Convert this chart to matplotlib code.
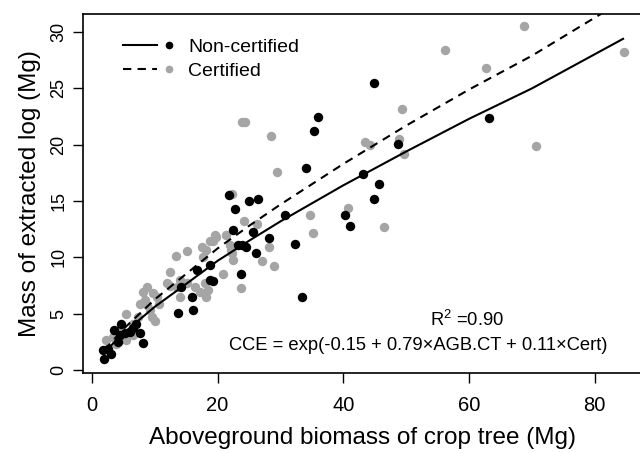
import matplotlib
matplotlib.use("Agg")
import matplotlib.pyplot as plt
from matplotlib.lines import Line2D
from matplotlib.legend_handler import HandlerTuple

plt.rcParams['font.family'] = ['Liberation Sans', 'DejaVu Sans']
plt.rcParams['mathtext.fontset'] = 'custom'
plt.rcParams['mathtext.rm'] = 'Liberation Sans'

# non-certified points (black)
noncert_x = [1.9, 1.8, 2.5, 3.0, 3.5, 4.2, 4.5, 4.6, 5.3, 6.0, 6.6, 7.1, 7.6, 8.1,
             13.7, 16.1, 16.0, 14.2, 16.7, 18.8, 18.8, 19.2, 21.8, 22.8, 25.0, 26.4,
             22.5, 25.7, 28.1, 23.3, 23.9, 24.5, 26.1, 23.7, 30.7, 32.3, 33.5, 34.0,
             35.3, 36.0, 40.3, 41.0, 43.2, 44.8, 45.7, 48.7, 44.8, 63.2]
noncert_y = [0.95, 1.8, 1.9, 1.45, 3.55, 2.5, 3.1, 4.1, 3.25, 3.35, 3.7, 4.1, 3.25, 2.4,
             5.1, 5.35, 6.5, 7.4, 8.9, 9.3, 8.0, 7.9, 15.5, 14.3, 15.0, 15.2,
             12.4, 12.3, 11.7, 11.1, 11.1, 10.9, 10.4, 8.5, 13.8, 11.15, 6.5, 17.9,
             21.2, 22.5, 13.75, 12.8, 17.4, 15.2, 16.5, 20.1, 25.5, 22.4]

# certified points (grey)
cert_x = [2.3, 3.4, 3.9, 4.5, 5.5, 6.6, 5.5, 6.6, 7.4, 7.6, 8.7, 9.5, 10.0, 8.2,
          8.7, 10.3, 10.7, 9.2, 9.8, 8.4, 12.4, 11.9, 13.5, 15.1, 14.0, 16.4, 17.2,
          18.1, 14.0, 12.4, 13.4, 15.2, 17.5, 18.1, 19.3, 19.8, 17.7, 20.8, 18.0,
          18.5, 22.0, 21.4, 18.8, 19.6, 22.3, 22.5, 22.2, 23.7, 24.2, 26.3, 28.2,
          27.0, 29.0, 22.3, 23.9, 24.4, 28.5, 29.5, 34.7, 35.1, 40.7, 46.5, 43.5,
          44.3, 48.9, 49.7, 49.3, 56.1, 62.7, 68.8, 70.7, 84.7]
cert_y = [2.65, 2.95, 2.35, 3.55, 2.65, 3.1, 5.0, 4.1, 4.7, 5.9, 5.8, 4.7, 4.4, 6.95,
          7.4, 6.5, 5.9, 5.3, 6.8, 6.2, 8.7, 7.7, 7.4, 7.7, 6.5, 7.4, 6.95,
          6.45, 8.0, 7.5, 10.1, 10.6, 10.95, 10.65, 11.5, 11.8, 10.05, 8.5, 7.7,
          7.1, 11.1, 12.0, 11.5, 12.0, 10.35, 9.76, 10.65, 7.25, 13.2, 12.95, 10.95,
          9.7, 9.2, 15.6, 22.0, 22.0, 20.8, 17.6, 13.8, 12.2, 14.4, 12.7, 20.2,
          20.0, 20.5, 19.2, 23.2, 28.4, 26.8, 30.5, 19.9, 28.2]

# fitted curves
fit_x = [2, 5, 10, 15, 20, 25, 30, 40, 50, 60, 70, 84.5]
fit_noncert = [1.6, 3.26, 5.62, 7.65, 9.7, 11.48, 13.2, 16.4, 19.4, 22.3, 25.0, 29.4]
fit_cert = [1.79, 3.64, 6.27, 8.54, 10.8, 12.8, 14.7, 18.3, 21.7, 24.9, 27.9, 32.8]

grey = "#a5a5a5"
dash = (0, (4.0, 3.0))

fig = plt.figure(figsize=(6.4, 4.53), dpi=100)
ax = fig.add_axes([0.129, 0.177, 0.876, 0.792])

ax.scatter(cert_x, cert_y, s=46, color=grey, linewidths=0, zorder=2)
ax.scatter(noncert_x, noncert_y, s=46, color="black", linewidths=0, zorder=3)
ax.plot(fit_x, fit_noncert, color="black", lw=1.5, zorder=4)
ax.plot(fit_x, fit_cert, color="black", lw=1.5, linestyle=dash, zorder=4)

ax.set_xlim(-1.48, 87.7)
ax.set_ylim(-0.24, 31.6)
ax.set_xticks([0, 20, 40, 60, 80])
ax.set_yticks([0, 5, 10, 15, 20, 25, 30])
ax.tick_params(axis='x', length=7.5, width=1, labelsize=14.5, pad=9)
ax.tick_params(axis='y', length=7.5, width=1, labelsize=13, pad=3.5)
for lab in ax.get_yticklabels():
    lab.set_rotation(90)
    lab.set_va('center')
for sp in ax.spines.values():
    sp.set_linewidth(1.2)

ax.set_xlabel("Aboveground biomass of crop tree (Mg)", fontsize=17.5, labelpad=9)
ax.set_ylabel("Mass of extracted log (Mg)", fontsize=17.5, labelpad=7)

# R^2 and model equation
ax.text(0.685, 0.148, r"R$^2$ =0.90", transform=ax.transAxes, fontsize=13.2,
        ha='center', va='center')
ax.text(0.598, 0.075, "CCE = exp(-0.15 + 0.79×AGB.CT + 0.11×Cert)",
        transform=ax.transAxes, fontsize=13.2, ha='center', va='center')

# legend: line followed by point
h1 = (Line2D([], [], color="black", lw=1.5),
      Line2D([], [], color="black", marker='o', ms=4.5, ls='none'))
h2 = (Line2D([], [], color="black", lw=1.5, linestyle=dash),
      Line2D([], [], color=grey, marker='o', ms=4.5, ls='none'))
ax.legend([h1, h2], ["Non-certified", "Certified"],
          handler_map={tuple: HandlerTuple(ndivide=None, pad=-0.3)},
          loc='upper left', bbox_to_anchor=(0.045, 0.975), frameon=False,
          fontsize=14, handlelength=3.2, handletextpad=0.15, labelspacing=0.3,
          borderpad=0.3)

fig.savefig("out.png", dpi=100)
